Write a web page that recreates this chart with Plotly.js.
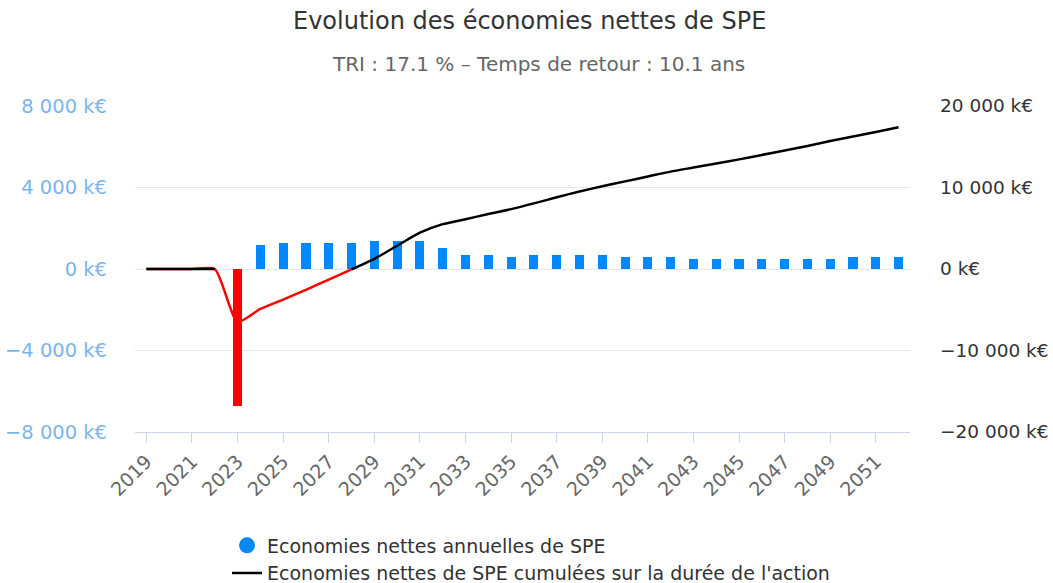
<!DOCTYPE html>
<html>
<head>
<meta charset="utf-8">
<script src="https://cdn.plot.ly/plotly-3.0.1.min.js"></script>
<style>
  html, body { margin: 0; padding: 0; background: #fff; }
  #chart { width: 1053px; height: 583px; }
</style>
</head>
<body>
<div id="chart"></div>
<script>
// years on the x axis
var years = [2019, 2020, 2021, 2022, 2023, 2024, 2025, 2026, 2027, 2028,
  2029, 2030, 2031, 2032, 2033, 2034, 2035, 2036, 2037, 2038,
  2039, 2040, 2041, 2042, 2043, 2044, 2045, 2046, 2047, 2048,
  2049, 2050, 2051, 2052];

// annual net savings (k€) - left axis
var annual = [0, 0, 0, 0, -6700, 1200, 1270, 1270, 1270, 1270,
  1370, 1370, 1370, 1010, 670, 670, 570, 670, 670, 670,
  670, 570, 570, 570, 480, 480, 480, 480, 480, 480,
  480, 570, 570, 570];

// cumulated net savings (k€) - right axis
var cumul = [0, 0, 0, 0, -6500, -4900, -3750, -2550, -1300, -50,
  1250, 2850, 4450, 5500, 6100, 6750, 7350, 8050, 8800, 9500,
  10150, 10750, 11350, 11950, 12450, 12950, 13450, 14000, 14550, 15100,
  15700, 16250, 16800, 17400];

var leftTicks = [-8000, -4000, 0, 4000, 8000];
var rightTicks = [-20000, -10000, 0, 10000, 20000];
var xTicks = [2019, 2021, 2023, 2025, 2027, 2029, 2031, 2033, 2035, 2037,
  2039, 2041, 2043, 2045, 2047, 2049, 2051];

function fmt(v) {
  var s = Math.abs(v).toString().replace(/\B(?=(\d{3})+(?!\d))/g, ' ');
  return (v < 0 ? '\u2212' : '') + s + ' k\u20ac';
}

// line colour zones: red below zero, black above
var cumulNeg = cumul.map(function (v) { return v <= 0 ? v : null; });
var cumulPos = cumul.map(function (v, i) {
  return (v >= 0 || (i + 1 < cumul.length && cumul[i + 1] > 0)) ? v : null;
});

var bars = {
  x: years, y: annual,
  type: 'bar', width: 0.4,
  marker: { color: annual.map(function (v) { return v < 0 ? '#ff0000' : '#0088ff'; }) },
  showlegend: false
};

// legend entry for the bars (round symbol like the original)
var barsLegend = {
  x: [null], y: [null],
  type: 'scatter', mode: 'markers',
  name: 'Economies nettes annuelles de SPE',
  legendgroup: 'a',
  marker: { color: '#0088ff', size: 16, symbol: 'circle' }
};

var lineNeg = {
  x: years, y: cumulNeg, yaxis: 'y2',
  type: 'scatter', mode: 'lines',
  line: { color: '#ff0000', width: 2.5, shape: 'spline', smoothing: 0.6 },
  connectgaps: false,
  showlegend: false
};

var linePos = {
  x: years, y: cumulPos, yaxis: 'y2',
  type: 'scatter', mode: 'lines',
  name: 'Economies nettes de SPE cumulées sur la durée de l\'action',
  legendgroup: 'b',
  line: { color: '#000000', width: 2.5, shape: 'spline', smoothing: 0.6 },
  connectgaps: false
};

var layout = {
  width: 1053, height: 583,
  paper_bgcolor: '#ffffff', plot_bgcolor: '#ffffff',
  font: { family: 'DejaVu Sans, sans-serif', color: '#333333' },
  margin: { l: 135, r: 143, t: 106, b: 151, pad: 0, autoexpand: false },
  title: {
    text: 'Evolution des économies nettes de SPE',
    font: { size: 24, color: '#333333' },
    x: 0.503, xref: 'container', xanchor: 'center',
    y: 0.965, yref: 'container', yanchor: 'middle'
  },
  annotations: [{
    text: 'TRI : 17.1 % – Temps de retour : 10.1 ans',
    xref: 'paper', yref: 'paper', x: 0.52, y: 1.13,
    xanchor: 'center', yanchor: 'middle', showarrow: false,
    font: { size: 20, color: '#666666' }
  }],
  xaxis: {
    range: [2018.5, 2052.5],
    tickmode: 'array', tickvals: xTicks, ticktext: xTicks.map(String),
    tickangle: -45,
    tickfont: { size: 19, color: '#666666' },
    ticks: 'outside', ticklen: 10, tickcolor: '#ccd6eb', tickwidth: 1,
    showline: true, linecolor: '#ccd6eb', linewidth: 1,
    showgrid: false, zeroline: false, fixedrange: true
  },
  yaxis: {
    range: [-8000, 8000],
    tickmode: 'array', tickvals: leftTicks, ticktext: leftTicks.map(fmt),
    tickfont: { size: 19.5, color: '#7cb5ec' },
    gridcolor: '#e6e6e6', gridwidth: 1,
    zeroline: true, zerolinecolor: '#e6e6e6', zerolinewidth: 1,
    ticks: '', ticklabelstandoff: 27,
    showline: false, fixedrange: true
  },
  yaxis2: {
    range: [-20000, 20000], overlaying: 'y', side: 'right',
    tickmode: 'array', tickvals: rightTicks, ticktext: rightTicks.map(fmt),
    tickfont: { size: 18.5, color: '#333333' },
    showgrid: false, zeroline: false,
    ticks: '', ticklabelstandoff: 29,
    showline: false, fixedrange: true
  },
  showlegend: true,
  legend: {
    orientation: 'v',
    xref: 'container', x: 0.2156, xanchor: 'left',
    yref: 'container', y: 0.097, yanchor: 'top',
    traceorder: 'normal',
    tracegroupgap: 0,
    font: { size: 19, color: '#333333' },
    bgcolor: 'rgba(0,0,0,0)'
  },
  bargap: 0
};

Plotly.newPlot('chart', [bars, lineNeg, barsLegend, linePos], layout, { displayModeBar: false, staticPlot: true });
</script>
</body>
</html>
